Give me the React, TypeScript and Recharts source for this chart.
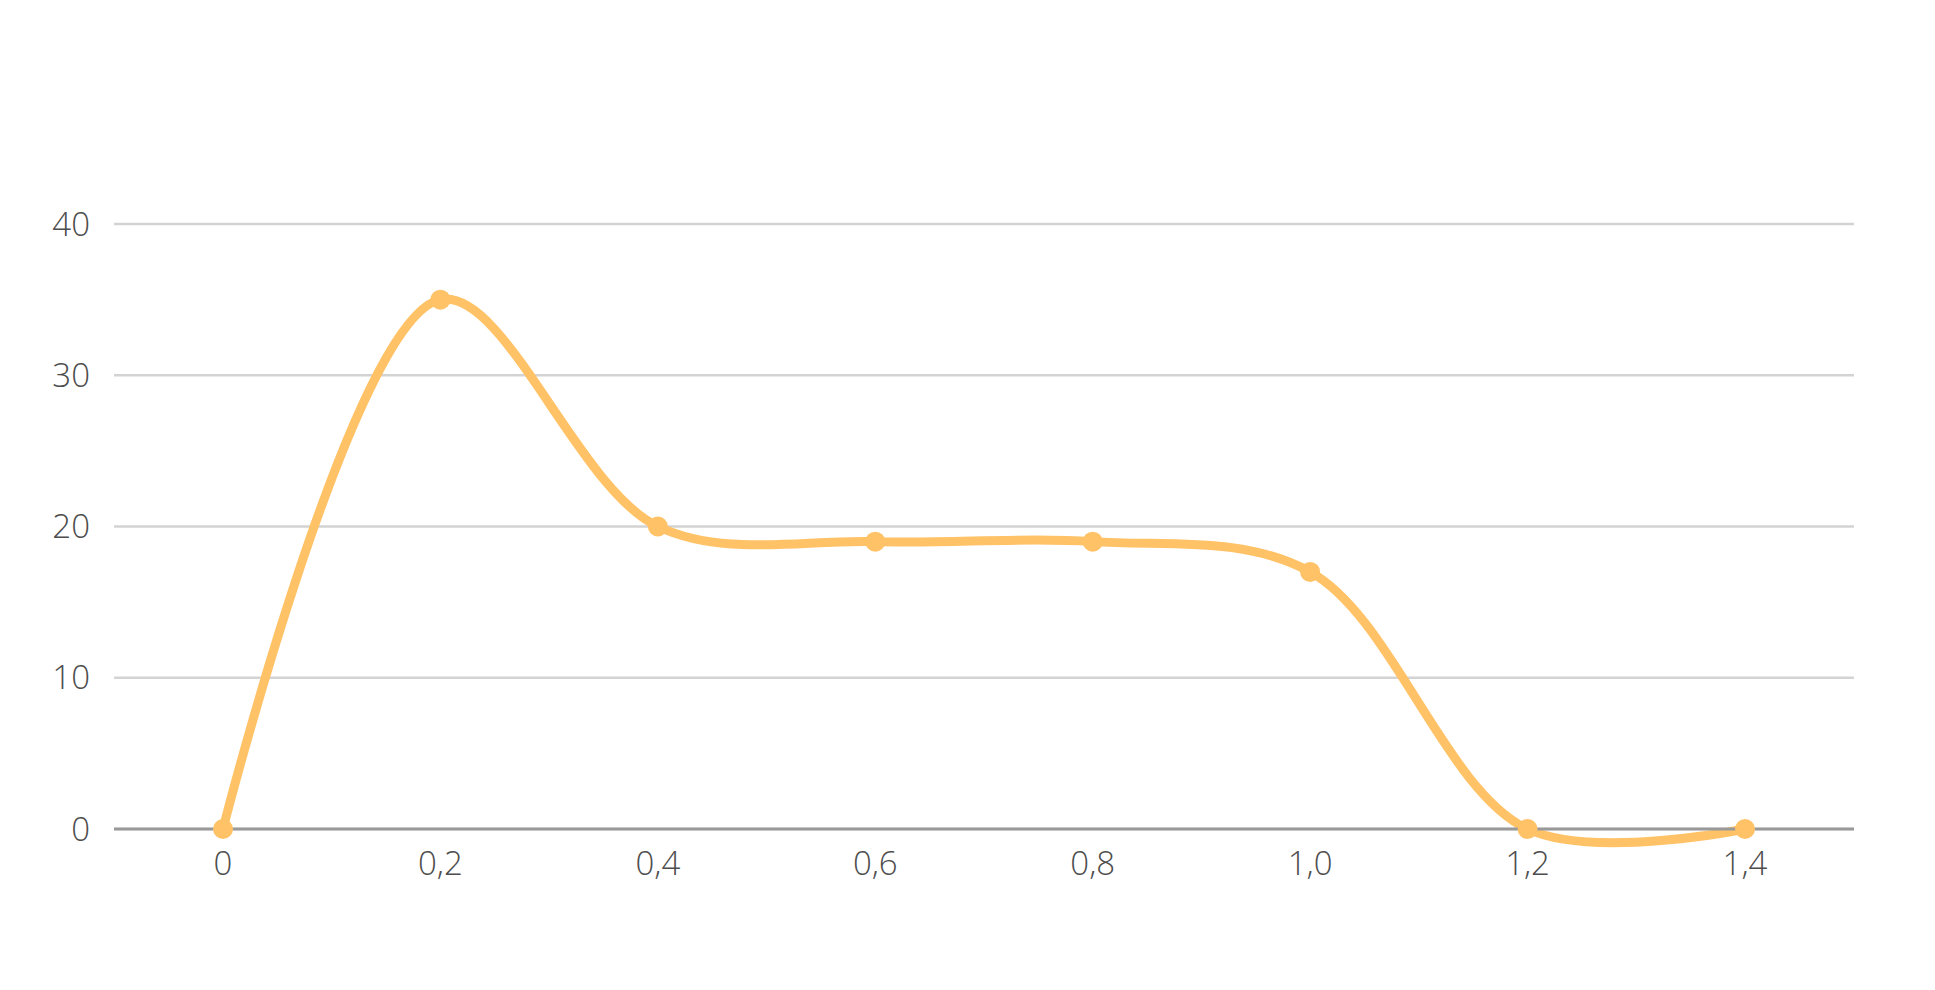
import React from 'react';
import { LineChart, Line, XAxis, YAxis, CartesianGrid } from 'recharts';

const categories = ['0', '0,2', '0,4', '0,6', '0,8', '1,0', '1,2', '1,4'];
const values = [0, 35, 20, 19, 19, 17, 0, 0];
const yTicks = [0, 10, 20, 30, 40];

const data = categories.map((x, i) => ({ x, y: values[i] }));

const tickStyle = { fill: '#4d4d4d', fontSize: 33, fontWeight: 300, fontFamily: '"Open Sans", sans-serif' };

// centripetal catmull-rom (alpha 0.5) as a d3-style curve factory
const ALPHA = 0.5;
class CatmullRom {
  ctx: any;
  pts: [number, number][] = [];
  line = NaN;
  constructor(ctx: any) {
    this.ctx = ctx;
  }
  areaStart() {
    this.line = 0;
  }
  areaEnd() {
    this.line = NaN;
  }
  lineStart() {
    this.pts = [];
  }
  point(x: number, y: number) {
    this.pts.push([+x, +y]);
  }
  lineEnd() {
    const p = this.pts;
    if (!p.length) return;
    if (this.line === 0) this.ctx.lineTo(p[0][0], p[0][1]);
    else this.ctx.moveTo(p[0][0], p[0][1]);
    const dist = (a: [number, number], b: [number, number]) => Math.hypot(b[0] - a[0], b[1] - a[1]);
    for (let i = 0; i < p.length - 1; i++) {
      const p0 = p[i - 1];
      const p1 = p[i];
      const p2 = p[i + 1];
      const p3 = p[i + 2];
      const l12a = Math.pow(dist(p1, p2), ALPHA);
      const l12_2a = l12a * l12a;
      let c1x = p1[0];
      let c1y = p1[1];
      let c2x = p2[0];
      let c2y = p2[1];
      if (p0) {
        const l01a = Math.pow(dist(p0, p1), ALPHA);
        const l01_2a = l01a * l01a;
        const a = 2 * l01_2a + 3 * l01a * l12a + l12_2a;
        const n = 3 * l01a * (l01a + l12a);
        c1x = (p1[0] * a - p0[0] * l12_2a + p2[0] * l01_2a) / n;
        c1y = (p1[1] * a - p0[1] * l12_2a + p2[1] * l01_2a) / n;
      }
      if (p3) {
        const l23a = Math.pow(dist(p2, p3), ALPHA);
        const l23_2a = l23a * l23a;
        const b = 2 * l23_2a + 3 * l23a * l12a + l12_2a;
        const m = 3 * l23a * (l23a + l12a);
        c2x = (p2[0] * b + p1[0] * l23_2a - p3[0] * l12_2a) / m;
        c2y = (p2[1] * b + p1[1] * l23_2a - p3[1] * l12_2a) / m;
      }
      this.ctx.bezierCurveTo(c1x, c1y, c2x, c2y, p2[0], p2[1]);
    }
    if (this.line === 0) this.ctx.closePath();
  }
}

const catmullRom = (ctx: any) => new CatmullRom(ctx);

const App: React.FC = () => {
  return (
    <div style={{ position: 'absolute', left: 0, top: 0, width: 1935, height: 990, background: '#fff' }}>
      <LineChart width={1935} height={990} data={data} margin={{ top: 224, right: 81, left: 0, bottom: 0 }}>
        <CartesianGrid vertical={false} stroke="#d3d3d3" strokeWidth={2.5} />
        <XAxis
          dataKey="x"
          tick={tickStyle}
          tickLine={false}
          axisLine={{ stroke: '#999', strokeWidth: 3 }}
          padding={{ left: 109, right: 109 }}
          tickMargin={17}
          height={161}
        />
        <YAxis
          domain={[0, 40]}
          ticks={yTicks}
          tick={tickStyle}
          tickLine={false}
          axisLine={false}
          width={114}
          tickMargin={18}
        />
        <Line
          type={catmullRom as any}
          dataKey="y"
          stroke="#FFC266"
          strokeWidth={9}
          dot={{ r: 10, fill: '#FFC266', stroke: 'none' }}
          activeDot={false}
          isAnimationActive={false}
        />
      </LineChart>
    </div>
  );
};

export default App;
